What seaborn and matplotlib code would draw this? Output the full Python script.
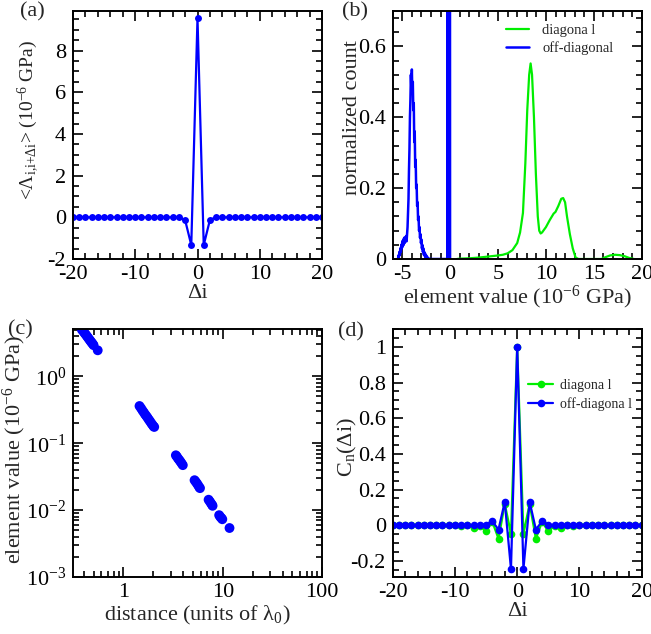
import numpy as np
import pandas as pd
import matplotlib
matplotlib.use("Agg")
import matplotlib.pyplot as plt
from matplotlib.ticker import MultipleLocator, FuncFormatter, LogLocator, LogFormatterMathtext, NullFormatter
import seaborn as sns

# ---------------- data ----------------
# (a) mean elastic element vs offset
di_a = list(range(-20, 21))
lam_a = [0.0] * 41
lam_a[18] = -0.12   # di = -2
lam_a[19] = -1.33   # di = -1
lam_a[20] = 9.55    # di = 0
lam_a[21] = -1.33   # di = 1
lam_a[22] = -0.12   # di = 2

# (b) histograms
diag_x = [0.7, 1.0, 2.0, 3.0, 4.0, 5.0, 5.5, 6.0, 6.5, 7.0, 7.3, 7.6, 7.85, 8.05, 8.25, 8.4,
          8.55, 8.75, 8.95, 9.15, 9.3, 9.45, 9.6, 10.0, 10.4, 10.8, 11.0, 11.3, 11.6, 11.8,
          12.0, 12.2, 12.5, 12.8, 13.1, 13.4, 14.0, 15.0, 15.8, 16.2, 16.7, 17.2, 17.7,
          18.2, 18.7, 19.2]
diag_y = [0.0, 0.001, 0.002, 0.004, 0.007, 0.01, 0.012, 0.016, 0.025, 0.045, 0.075, 0.13,
          0.27, 0.42, 0.52, 0.552, 0.52, 0.40, 0.24, 0.12, 0.08, 0.072, 0.075, 0.09, 0.11,
          0.128, 0.133, 0.15, 0.17, 0.172, 0.16, 0.12, 0.07, 0.03, 0.004, 0.0, 0.0, 0.0,
          0.0, 0.005, 0.01, 0.012, 0.011, 0.008, 0.003, 0.0]

off_x = [-5.45, -5.4, -5.35, -5.3, -5.25, -5.2, -5.15, -5.1, -5.05, -5.0, -4.95, -4.9,
         -4.85, -4.8, -4.75, -4.7, -4.65, -4.6, -4.55, -4.5, -4.45, -4.4, -4.35, -4.3,
         -4.25, -4.2, -4.15, -4.1, -4.05, -4.0, -3.95, -3.9, -3.85, -3.8, -3.75, -3.7,
         -3.65, -3.6, -3.55, -3.5, -3.45, -3.4, -3.35, -3.3, -3.25, -3.2, -3.15, -3.1,
         -3.05, -3.0, -2.95, -2.9, -2.85, -2.8, -2.75, -2.7, -2.65, -2.6, -2.55, -2.5,
         -2.45, -2.4, -2.35, -2.3, -2.25, -0.4,
         -0.3, -0.28, -0.25, -0.22, -0.19, -0.16, -0.13, -0.1, -0.07, -0.04, -0.01, 0.01]
off_y = [0.0, 0.01, 0.005, 0.02, 0.012, 0.03, 0.02, 0.04, 0.03, 0.05, 0.035, 0.055,
         0.04, 0.06, 0.045, 0.06, 0.05, 0.065, 0.05, 0.07, 0.09, 0.13, 0.17, 0.25,
         0.31, 0.40, 0.45, 0.52, 0.48, 0.535, 0.47, 0.50, 0.42, 0.44, 0.33, 0.36,
         0.26, 0.28, 0.20, 0.21, 0.15, 0.16, 0.11, 0.12, 0.08, 0.09, 0.06, 0.07,
         0.045, 0.055, 0.03, 0.04, 0.02, 0.03, 0.012, 0.02, 0.008, 0.015, 0.004, 0.01,
         0.002, 0.006, 0.0, 0.003, 0.0, 0.0,
         0.0, 3.0, 0.0, 3.0, 0.0, 3.0, 0.0, 3.0, 0.0, 3.0, 0.0, 0.0]

# (c) element value vs distance
dist_c = [0.38, 0.39, 0.40, 0.41, 0.42, 0.43, 0.44, 0.45, 0.46, 0.47, 0.48, 0.49, 0.50, 0.55,
          1.45, 1.5, 1.55, 1.6, 1.65, 1.7, 1.75, 1.8, 1.85, 1.9, 1.95, 2.0, 2.04,
          3.37, 3.45, 3.55, 3.65, 3.75, 3.85, 3.96,
          5.2, 5.35, 5.5, 5.65, 5.8, 5.9,
          7.2, 7.4, 7.6, 7.8, 7.9,
          9.2, 9.45, 9.7, 9.9,
          11.7]
val_c = [5.0, 4.8, 4.55, 4.35, 4.15, 3.95, 3.78, 3.6, 3.45, 3.3, 3.17, 3.05, 2.92, 2.45,
         0.36, 0.335, 0.31, 0.29, 0.27, 0.255, 0.24, 0.225, 0.213, 0.2, 0.19, 0.18, 0.175,
         0.066, 0.063, 0.059, 0.056, 0.053, 0.05, 0.047,
         0.028, 0.0265, 0.025, 0.0235, 0.022, 0.0213,
         0.0143, 0.0135, 0.0127, 0.012, 0.0116,
         0.0084, 0.0079, 0.0076, 0.0073,
         0.0054]

# (d) correlation functions
di_d = list(range(-20, 21))
c_off = [0.0] * 41
for k, v in {-5: 0.004, -4: 0.022, -3: -0.024, -2: 0.131, -1: -0.245, 0: 1.0,
             1: -0.245, 2: 0.131, 3: -0.024, 4: 0.022, 5: 0.004}.items():
    c_off[k + 20] = v
c_diag = [0.0] * 41
for k, v in {-9: -0.005, -8: 0.0, -7: -0.018, -6: -0.003, -5: -0.034, -4: 0.02, -3: -0.075,
             -2: 0.12, -1: -0.048, 0: 1.0, 1: -0.048, 2: 0.12, 3: -0.075, 4: 0.02,
             5: -0.034, 6: -0.003, 7: -0.018, 8: 0.0, 9: -0.005}.items():
    c_diag[k + 20] = v

# ---------------- style ----------------
sns.set_style("ticks")
plt.rcParams['font.family'] = ['Liberation Serif', 'DejaVu Serif']
plt.rcParams['mathtext.fontset'] = 'custom'
plt.rcParams['mathtext.rm'] = 'Liberation Serif'
plt.rcParams['mathtext.it'] = 'Liberation Serif:italic'
plt.rcParams['mathtext.default'] = 'rm'
plt.rcParams['axes.unicode_minus'] = False

BLUE = '#0000ff'
GREEN = '#00ee00'
FS = 16

fig = plt.figure(figsize=(6.51, 6.34), dpi=100)
L1, L2, W = 73 / 651, 392.7 / 651, 249 / 651
H = 248 / 634
B1, B2 = 1 - 259 / 634, 1 - 577 / 634
axA = fig.add_axes([L1, B1, W, H])
axB = fig.add_axes([L2, B1, W, H])
axC = fig.add_axes([L1, B2, W, H])
axD = fig.add_axes([L2, B2, W, H])

fmt = FuncFormatter(lambda v, p: ('%g' % round(v, 6)))

def style(ax):
    for s in ax.spines.values():
        s.set_linewidth(1.4)
        s.set_color('black')
    ax.tick_params(which='both', direction='in', top=True, right=True,
                   labelsize=FS, width=1.2, colors='black')
    ax.tick_params(which='major', length=7.5, pad=5)
    ax.tick_params(which='minor', length=4)
    ax.tick_params(axis='x', which='major', pad=4)

# (a)
sns.lineplot(x=di_a, y=lam_a, ax=axA, color=BLUE, marker='o', markersize=5,
             markeredgewidth=0, linewidth=1.6)
axA.set_xlim(-20, 20)
axA.set_ylim(-2, 9.9)
axA.xaxis.set_major_locator(MultipleLocator(10))
axA.xaxis.set_minor_locator(MultipleLocator(2))
axA.yaxis.set_major_locator(MultipleLocator(2))
axA.yaxis.set_minor_locator(MultipleLocator(0.5))
axA.xaxis.set_major_formatter(fmt)
axA.yaxis.set_major_formatter(fmt)
style(axA)
axA.set_xlabel('Δi', fontsize=FS, labelpad=0)
axA.set_ylabel(r'<$\Lambda_{i{,}i{+}\Delta i}$> (10$^{-6}$ GPa)', fontsize=14)
axA.yaxis.set_label_coords(-0.128, 0.56)

# (b)
sns.lineplot(x=diag_x, y=diag_y, ax=axB, color=GREEN, linewidth=1.6, label='diagona l', sort=False)
sns.lineplot(x=off_x, y=off_y, ax=axB, color=BLUE, linewidth=1.8, label='off-diagonal', sort=False)
axB.set_xlim(-6, 20)
axB.set_ylim(0, 0.7)
axB.xaxis.set_major_locator(MultipleLocator(5))
axB.xaxis.set_minor_locator(MultipleLocator(1))
axB.yaxis.set_major_locator(MultipleLocator(0.2))
axB.yaxis.set_minor_locator(MultipleLocator(0.04))
axB.xaxis.set_major_formatter(fmt)
axB.yaxis.set_major_formatter(fmt)
style(axB)
axB.set_xlabel(r'element value (10$^{-6}$ GPa)', fontsize=FS, labelpad=0)
axB.set_ylabel('normalized count', fontsize=FS)
axB.yaxis.set_label_coords(-0.125, 0.57)
axB.legend(loc='upper left', bbox_to_anchor=(0.455, 0.95), frameon=False, fontsize=10.5,
           handlelength=1.6, handletextpad=0.9, labelspacing=0.35, borderpad=0, borderaxespad=0)

# (c)
sns.scatterplot(x=dist_c, y=val_c, ax=axC, color=BLUE, s=50, edgecolor='none', linewidth=0)
axC.set_xscale('log')
axC.set_yscale('log')
axC.set_xlim(0.31, 100)
axC.set_ylim(1e-3, 5.1)
axC.xaxis.set_major_locator(LogLocator(base=10))
axC.xaxis.set_minor_locator(LogLocator(base=10, subs=np.arange(2, 10)))
axC.xaxis.set_major_formatter(FuncFormatter(lambda v, p: '%g' % v))
axC.xaxis.set_minor_formatter(NullFormatter())
axC.yaxis.set_major_locator(LogLocator(base=10))
axC.yaxis.set_minor_locator(LogLocator(base=10, subs=np.arange(2, 10)))
axC.yaxis.set_major_formatter(LogFormatterMathtext())
axC.yaxis.set_minor_formatter(NullFormatter())
style(axC)
axC.set_xlabel(r'distance (units of $\lambda_{0}$)', fontsize=FS, labelpad=2)
axC.set_ylabel(r'element value (10$^{-6}$ GPa)', fontsize=FS)
axC.yaxis.set_label_coords(-0.18, 0.515)

# (d)
sns.lineplot(x=di_d, y=c_diag, ax=axD, color=GREEN, marker='o', markersize=5.5,
             markeredgewidth=0, linewidth=1.6, label='diagona l')
sns.lineplot(x=di_d, y=c_off, ax=axD, color=BLUE, marker='o', markersize=5.5,
             markeredgewidth=0, linewidth=1.6, label='off-diagona l')
axD.set_xlim(-20, 20)
axD.set_ylim(-0.29, 1.1)
axD.xaxis.set_major_locator(MultipleLocator(10))
axD.xaxis.set_minor_locator(MultipleLocator(2))
axD.yaxis.set_major_locator(MultipleLocator(0.2))
axD.yaxis.set_minor_locator(MultipleLocator(0.05))
axD.xaxis.set_major_formatter(fmt)
axD.yaxis.set_major_formatter(fmt)
style(axD)
axD.set_xlabel('Δi', fontsize=FS, labelpad=0)
axD.set_ylabel(r'C$_{n}$(Δi)', fontsize=FS)
axD.yaxis.set_label_coords(-0.135, 0.522)
axD.legend(loc='upper left', bbox_to_anchor=(0.545, 0.80), frameon=False, fontsize=10,
           handlelength=1.8, handletextpad=0.5, labelspacing=0.4, borderpad=0, borderaxespad=0)

# panel letters
fig.text(20 / 651, 1 - 12 / 634, '(a)', fontsize=FS, va='center', ha='left')
fig.text(342 / 651, 1 - 12 / 634, '(b)', fontsize=FS, va='center', ha='left')
fig.text(8 / 651, 1 - 330 / 634, '(c)', fontsize=FS, va='center', ha='left')
fig.text(338 / 651, 1 - 332 / 634, '(d)', fontsize=FS, va='center', ha='left')

fig.savefig('out.png', dpi=100)
